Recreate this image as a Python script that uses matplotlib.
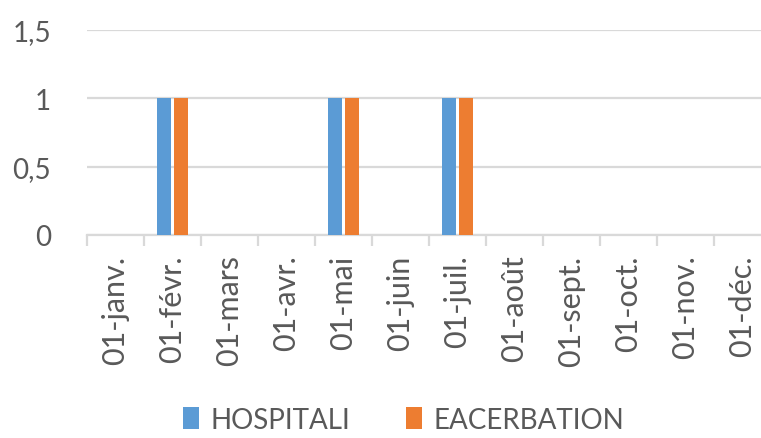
import matplotlib
matplotlib.use("Agg")
import matplotlib.pyplot as plt
import numpy as np

months = ["01-janv.", "01-févr.", "01-mars", "01-avr.", "01-mai", "01-juin",
          "01-juil.", "01-août", "01-sept.", "01-oct.", "01-nov.", "01-déc."]
hospitali = [0, 1, 0, 0, 1, 0, 1, 0, 0, 0, 0, 0]
eacerbation = [0, 1, 0, 0, 1, 0, 1, 0, 0, 0, 0, 0]
yticks = [0, 0.5, 1, 1.5]
ytick_labels = ["0", "0,5", "1", "1,5"]

plt.rcParams['font.family'] = ['Lato', 'DejaVu Sans']
text_color = "#595959"
grid_color = "#d9d9d9"

fig = plt.figure(figsize=(7.61, 4.39), dpi=100)
ax = fig.add_axes([87 / 761, 1 - 236 / 439, 684 / 761, 205 / 439])

x = np.arange(len(months))
w = 0.245
ax.bar(x - 0.15, hospitali, width=w, color="#5b9bd5", label="HOSPITALI", zorder=3)
ax.bar(x + 0.15, eacerbation, width=w, color="#ed7d31", label="EACERBATION", zorder=3)

ax.set_xlim(-0.5, len(months) - 0.5)
ax.set_ylim(0, 1.5)
ax.set_yticks(yticks)
ax.set_yticklabels(ytick_labels, fontsize=20, color=text_color)
ax.yaxis.grid(True, color=grid_color, linewidth=1.6, zorder=0)
ax.tick_params(axis="y", length=0, pad=26)

# category boundary ticks below the axis
ax.set_xticks(np.arange(len(months) + 1) - 0.5, minor=False)
ax.set_xticklabels([])
ax.tick_params(axis="x", which="major", length=8, width=1.6, color=grid_color, direction="out")
ax.set_xticks(x, minor=True)
ax.set_xticklabels(months, minor=True, rotation=90, fontsize=22, color=text_color,
                   va="top", ha="center")
ax.tick_params(axis="x", which="minor", length=0, pad=14)

for s in ["top", "right", "left"]:
    ax.spines[s].set_visible(False)
ax.spines["bottom"].set_color(grid_color)
ax.spines["bottom"].set_linewidth(1.6)

leg = fig.legend(loc="lower center", bbox_to_anchor=(0.53, -0.045), ncol=2, frameon=False,
                 fontsize=20, handlelength=0.6, handleheight=0.8, columnspacing=2.0,
                 handletextpad=0.4)
for t in leg.get_texts():
    t.set_color(text_color)

fig.savefig("out.png", dpi=100)
